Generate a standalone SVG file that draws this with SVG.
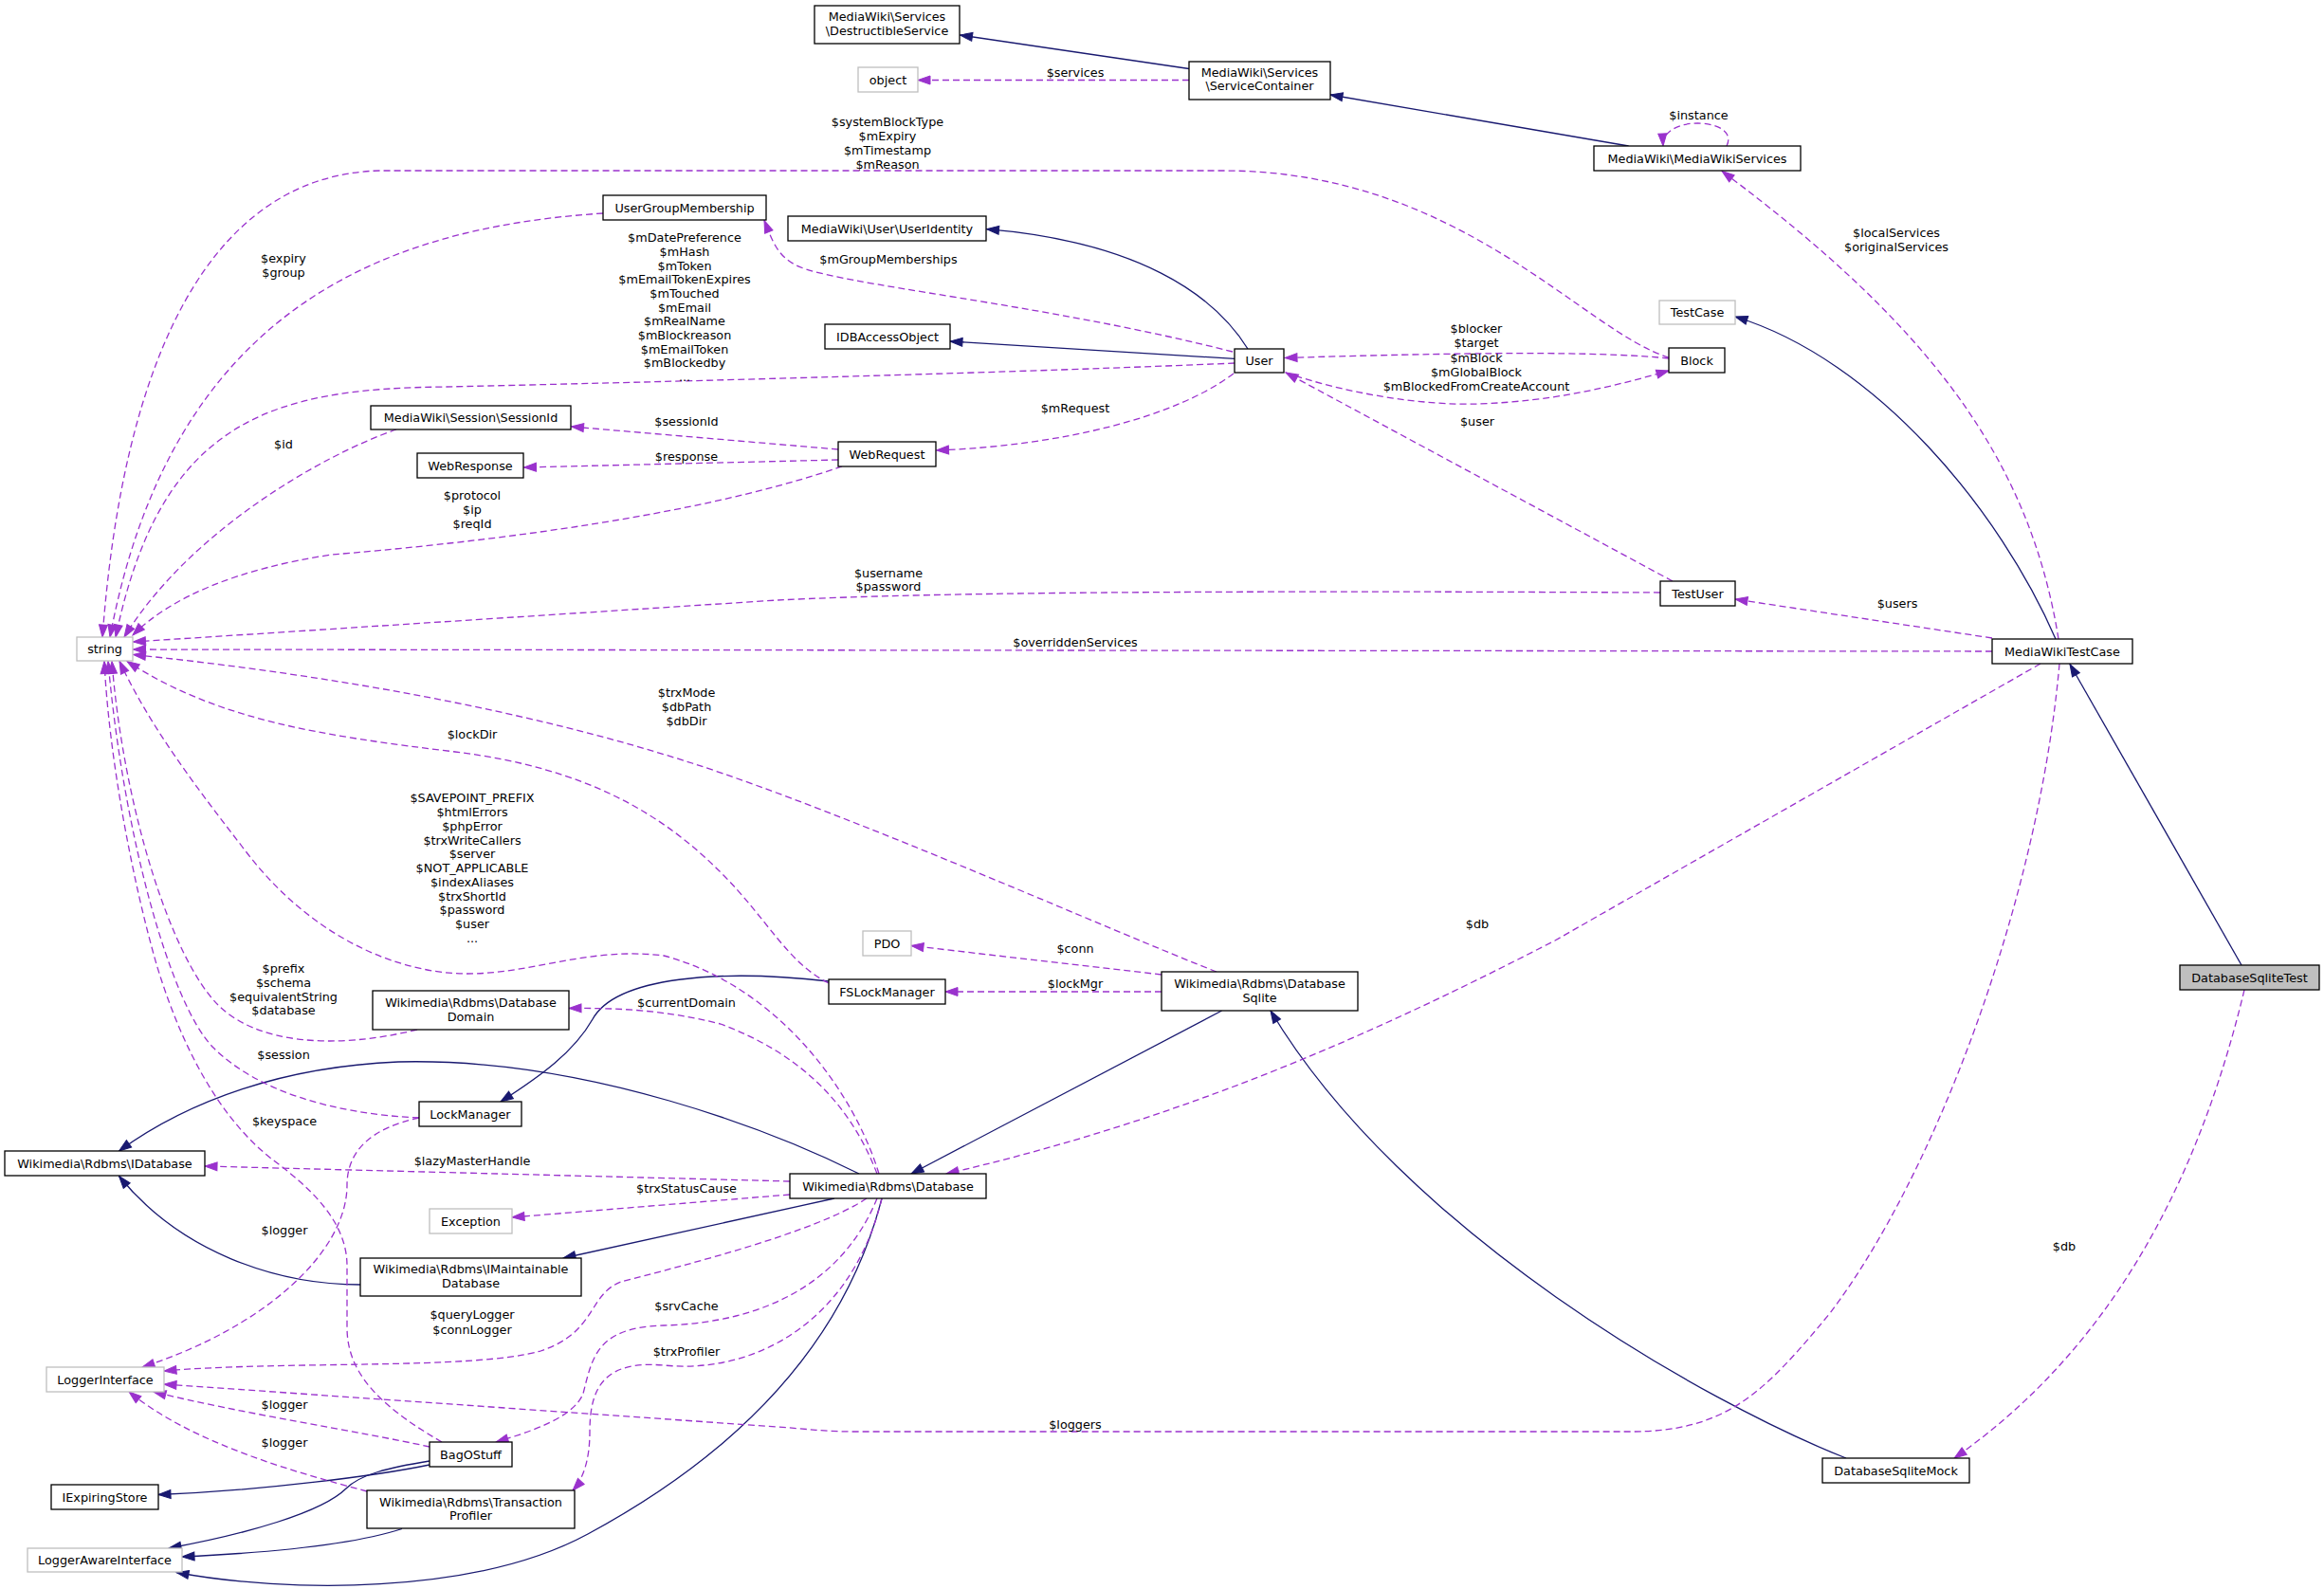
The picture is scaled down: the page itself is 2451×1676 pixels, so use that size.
<svg xmlns="http://www.w3.org/2000/svg" width="2451" height="1676" viewBox="0 0 2451 1676">
<style>
.node rect{fill:#fff;stroke:#000;stroke-width:1.3}
.node.ext rect{stroke:#bfbfbf}
.node.cur rect{fill:#bfbfbf}
text{font-family:"DejaVu Sans","Liberation Sans",sans-serif;font-size:12.8px;text-anchor:middle;fill:#000}
.inh{fill:none;stroke:#191970;stroke-width:1.3;marker-end:url(#an)}
.use{fill:none;stroke:#9a32cd;stroke-width:1.3;stroke-dasharray:7,4;marker-end:url(#ap)}
</style>
<defs>
<marker id="an" markerUnits="userSpaceOnUse" markerWidth="14" markerHeight="10" refX="13" refY="5" orient="auto" overflow="visible"><path d="M0,0.5 L13,5 L0,9.5 z" fill="#191970" stroke="#191970" stroke-width="1" stroke-dasharray="none"/></marker>
<marker id="ap" markerUnits="userSpaceOnUse" markerWidth="14" markerHeight="10" refX="13" refY="5" orient="auto" overflow="visible"><path d="M0,0.5 L13,5 L0,9.5 z" fill="#9a32cd" stroke="#9a32cd" stroke-width="1" stroke-dasharray="none"/></marker>
</defs>
<rect width="2451" height="1676" fill="#fff"/>
<g id="edges">
<path class="inh" d="M1254,72.5 L1012.5,37"/>
<path class="inh" d="M1717.6,154 L1403,100"/>
<path class="inh" d="M1316,368 C1280,310 1200,255 1040.5,241.7"/>
<path class="inh" d="M1302,378.4 L1002,360"/>
<path class="inh" d="M2168,674 C2110,540 1980,380 1830,334"/>
<path class="inh" d="M2364,1018 L2183,700.5"/>
<path class="inh" d="M1288.6,1066 L961,1238"/>
<path class="inh" d="M1947,1538 C1800,1480 1480,1300 1340,1066"/>
<path class="inh" d="M906,1238 C820,1195 620,1115 420,1120 C300,1125 200,1160 125.5,1214"/>
<path class="inh" d="M380,1355 C290,1355 190,1320 125.5,1240.5"/>
<path class="inh" d="M880,1264 L594,1327"/>
<path class="inh" d="M874,1035 C760,1022 650,1030 625,1075 C605,1110 570,1135 528,1162"/>
<path class="inh" d="M453,1545 C400,1556 280,1572 167,1576.5"/>
<path class="inh" d="M453,1541 C410,1548 380,1555 365,1570 C340,1595 260,1618 178,1633"/>
<path class="inh" d="M424,1612.5 C370,1630 280,1638 192,1642"/>
<path class="inh" d="M930,1264 C900,1380 820,1510 620,1618 C500,1683 300,1680 186,1658.5"/>

<path class="use" d="M1254,84.5 L968,84.5"/>
<path class="use" d="M1821,154 C1836,124 1752,120 1754,154"/>
<path class="use" d="M2171,674 C2140,480 2030,340 1816,180.5"/>
<path class="use" d="M1760,377 C1670,350 1540,180 1290,180 L400,180 C220,185 130,380 108,672"/>
<path class="use" d="M636,225 C400,240 180,330 116,672"/>
<path class="use" d="M1302,383 C1100,392 700,403 470,408 C290,410 170,440 122,672"/>
<path class="use" d="M418,453 C340,480 200,560 131,672"/>
<path class="use" d="M888,492 C720,550 470,575 350,585 C250,600 180,630 140,670"/>
<path class="use" d="M1751,625 C1300,623 1000,624 820,633 L140.5,677"/>
<path class="use" d="M2101,687 L140.5,685"/>
<path class="use" d="M1283,1025 C1180,985 900,860 730,805 C560,750 350,712 140.5,690.5"/>
<path class="use" d="M874,1037 C830,1015 810,970 760,920 C700,860 620,810 480,793 C340,776 230,760 134,697.5"/>
<path class="use" d="M927,1238 C900,1150 820,1040 700,1008 C620,998 560,1028 490,1027 C420,1026 330,990 260,899 C210,834 160,770 126,697.5"/>
<path class="use" d="M440,1086 C350,1108 270,1100 230,1060 C180,1010 130,850 118,697.5"/>
<path class="use" d="M442,1179 C350,1175 270,1150 225,1105 C180,1060 130,880 114,697.5"/>
<path class="use" d="M466,1521 C395,1480 366,1445 366,1400 L366,1335 C366,1290 330,1255 290,1225 C230,1180 190,1100 165,1017 C140,930 115,800 110,697.5"/>
<path class="use" d="M442,1179 C390,1190 366,1215 366,1250 C366,1320 280,1400 150,1442"/>
<path class="use" d="M914,1264 C860,1300 720,1335 655,1352 C620,1365 630,1405 570,1425 C500,1445 300,1435 173,1446"/>
<path class="use" d="M925,1264 C890,1350 810,1395 700,1398 C630,1400 625,1430 615,1470 C605,1495 560,1510 523,1521"/>
<path class="use" d="M930,1264 C900,1390 800,1450 700,1440 C640,1435 622,1460 622,1510 C622,1540 615,1560 604,1572"/>
<path class="use" d="M833,1260 L540,1284"/>
<path class="use" d="M833,1246 L216,1230"/>
<path class="use" d="M925,1238 C895,1160 840,1110 760,1080 C700,1065 650,1063 600,1063.5"/>
<path class="use" d="M1225,1028 L961,997.5"/>
<path class="use" d="M1225,1046 L997,1046"/>
<path class="use" d="M2152,700 L1640,992 C1450,1090 1250,1180 998,1238"/>
<path class="use" d="M2172,700 C2150,950 2040,1240 1930,1385 C1860,1470 1820,1510 1720,1510 L900,1510 C870,1510 850,1507 820,1505 L173,1460"/>
<path class="use" d="M453,1526 C380,1510 250,1490 162,1468"/>
<path class="use" d="M387,1573 C300,1550 200,1520 136,1468"/>
<path class="use" d="M2367,1044 C2320,1240 2230,1420 2061,1538"/>
<path class="use" d="M1764,613 L1356,393"/>
<path class="use" d="M1760,378 C1700,372 1600,370 1355,377.5"/>
<path class="use" d="M1356,393 C1420,415 1500,428 1560,426 C1640,423 1700,408 1760,391"/>
<path class="use" d="M1300,371 C1100,320 880,300 840,280 C820,270 815,255 806,232.5"/>
<path class="use" d="M1301,394 C1240,440 1120,470 987.5,475"/>
<path class="use" d="M884,474 L602.5,450"/>
<path class="use" d="M884,485 L552.5,493"/>
<path class="use" d="M2101,673 L1830,632"/>
</g>
<g id="labels">
<text x="1134" y="81">$services</text>
<text x="936"><tspan x="936" y="133">$systemBlockType</tspan><tspan x="936" y="147.5">$mExpiry</tspan><tspan x="936" y="162.5">$mTimestamp</tspan><tspan x="936" y="177.5">$mReason</tspan></text>
<text x="1791.5" y="126.3">$instance</text>
<text><tspan x="2000" y="250">$localServices</tspan><tspan x="2000" y="265">$originalServices</tspan></text>
<text><tspan x="299" y="277">$expiry</tspan><tspan x="299" y="292">$group</tspan></text>
<text><tspan x="722" y="255.2">$mDatePreference</tspan><tspan x="722" y="269.9">$mHash</tspan><tspan x="722" y="284.5">$mToken</tspan><tspan x="722" y="299.2">$mEmailTokenExpires</tspan><tspan x="722" y="313.9">$mTouched</tspan><tspan x="722" y="328.6">$mEmail</tspan><tspan x="722" y="343.2">$mRealName</tspan><tspan x="722" y="357.9">$mBlockreason</tspan><tspan x="722" y="372.6">$mEmailToken</tspan><tspan x="722" y="387.2">$mBlockedby</tspan><tspan x="722" y="401.9">...</tspan></text>
<text x="937" y="278">$mGroupMemberships</text>
<text><tspan x="1557" y="351">$blocker</tspan><tspan x="1557" y="366">$target</tspan></text>
<text><tspan x="1557" y="381.5">$mBlock</tspan><tspan x="1557" y="396.5">$mGlobalBlock</tspan><tspan x="1557" y="411.5">$mBlockedFromCreateAccount</tspan></text>
<text x="1134" y="435">$mRequest</text>
<text x="1558" y="449">$user</text>
<text x="724" y="449">$sessionId</text>
<text x="724" y="486">$response</text>
<text x="299" y="472.6">$id</text>
<text><tspan x="498" y="527">$protocol</tspan><tspan x="498" y="542">$ip</tspan><tspan x="498" y="557">$reqId</tspan></text>
<text><tspan x="937" y="609">$username</tspan><tspan x="937" y="623">$password</tspan></text>
<text x="2001" y="641.4">$users</text>
<text x="1134" y="682">$overriddenServices</text>
<text><tspan x="724" y="735">$trxMode</tspan><tspan x="724" y="750">$dbPath</tspan><tspan x="724" y="765">$dbDir</tspan></text>
<text x="498" y="778.8">$lockDir</text>
<text><tspan x="498" y="846.3">$SAVEPOINT_PREFIX</tspan><tspan x="498" y="861">$htmlErrors</tspan><tspan x="498" y="875.8">$phpError</tspan><tspan x="498" y="890.5">$trxWriteCallers</tspan><tspan x="498" y="905.3">$server</tspan><tspan x="498" y="920">$NOT_APPLICABLE</tspan><tspan x="498" y="934.7">$indexAliases</tspan><tspan x="498" y="949.5">$trxShortId</tspan><tspan x="498" y="964.2">$password</tspan><tspan x="498" y="979">$user</tspan><tspan x="498" y="993.7">...</tspan></text>
<text x="1558" y="978.7">$db</text>
<text x="1134" y="1005">$conn</text>
<text><tspan x="299" y="1026">$prefix</tspan><tspan x="299" y="1041">$schema</tspan><tspan x="299" y="1055.5">$equivalentString</tspan><tspan x="299" y="1070">$database</tspan></text>
<text x="1134" y="1042">$lockMgr</text>
<text x="724" y="1062">$currentDomain</text>
<text x="299" y="1117.2">$session</text>
<text x="300" y="1187.2">$keyspace</text>
<text x="498" y="1229">$lazyMasterHandle</text>
<text x="724" y="1258.3">$trxStatusCause</text>
<text x="300" y="1302">$logger</text>
<text x="2177" y="1319">$db</text>
<text x="724" y="1382">$srvCache</text>
<text><tspan x="498" y="1391.3">$queryLogger</tspan><tspan x="498" y="1406.5">$connLogger</tspan></text>
<text x="724" y="1430">$trxProfiler</text>
<text x="300" y="1485.6">$logger</text>
<text x="1134" y="1506.5">$loggers</text>
<text x="300" y="1526.4">$logger</text>
</g>
<g id="n_destructible" class="node"><rect x="859" y="6" width="153" height="40"/><text x="935.5" y="22">MediaWiki\Services</text><text x="935.5" y="37">\DestructibleService</text></g>
<g id="n_object" class="node ext"><rect x="905" y="71" width="63" height="26"/><text x="936.5" y="88.6">object</text></g>
<g id="n_servicecontainer" class="node"><rect x="1254" y="65" width="149" height="40"/><text x="1328.5" y="81">MediaWiki\Services</text><text x="1328.5" y="95">\ServiceContainer</text></g>
<g id="n_mwservices" class="node"><rect x="1681" y="154" width="218" height="26"/><text x="1790" y="171.6">MediaWiki\MediaWikiServices</text></g>
<g id="n_ugm" class="node"><rect x="636" y="206" width="172" height="26"/><text x="722" y="223.6">UserGroupMembership</text></g>
<g id="n_useridentity" class="node"><rect x="831" y="228" width="209" height="26"/><text x="935.5" y="245.6">MediaWiki\User\UserIdentity</text></g>
<g id="n_idbaccess" class="node"><rect x="870" y="342" width="132" height="26"/><text x="936" y="359.6">IDBAccessObject</text></g>
<g id="n_user" class="node"><rect x="1302" y="368" width="52" height="25"/><text x="1328" y="385.1">User</text></g>
<g id="n_block" class="node"><rect x="1760" y="367" width="59" height="26"/><text x="1789.5" y="384.6">Block</text></g>
<g id="n_testcase" class="node ext"><rect x="1750" y="317" width="80" height="25"/><text x="1790" y="334.1">TestCase</text></g>
<g id="n_sessionid" class="node"><rect x="391" y="428" width="211" height="25"/><text x="496.5" y="445.1">MediaWiki\Session\SessionId</text></g>
<g id="n_webrequest" class="node"><rect x="884" y="466" width="103" height="26"/><text x="935.5" y="483.6">WebRequest</text></g>
<g id="n_webresponse" class="node"><rect x="440" y="478" width="112" height="26"/><text x="496" y="495.6">WebResponse</text></g>
<g id="n_string" class="node ext"><rect x="81" y="672" width="59" height="25"/><text x="110.5" y="689.1">string</text></g>
<g id="n_testuser" class="node"><rect x="1751" y="613" width="79" height="26"/><text x="1790.5" y="630.6">TestUser</text></g>
<g id="n_mwtc" class="node"><rect x="2101" y="674" width="148" height="26"/><text x="2175" y="691.6">MediaWikiTestCase</text></g>
<g id="n_pdo" class="node ext"><rect x="910" y="982" width="51" height="26"/><text x="935.5" y="999.6">PDO</text></g>
<g id="n_fslock" class="node"><rect x="874" y="1033" width="123" height="26"/><text x="935.5" y="1050.6">FSLockManager</text></g>
<g id="n_dbsqlite" class="node"><rect x="1225" y="1025" width="207" height="41"/><text x="1328.5" y="1042">Wikimedia\Rdbms\Database</text><text x="1328.5" y="1057">Sqlite</text></g>
<g id="n_dbdomain" class="node"><rect x="393" y="1045" width="207" height="41"/><text x="496.5" y="1062">Wikimedia\Rdbms\Database</text><text x="496.5" y="1077">Domain</text></g>
<g id="n_dst" class="node cur"><rect x="2299" y="1018" width="147" height="26"/><text x="2372.5" y="1035.6">DatabaseSqliteTest</text></g>
<g id="n_lockmanager" class="node"><rect x="442" y="1162" width="108" height="26"/><text x="496" y="1179.6">LockManager</text></g>
<g id="n_idatabase" class="node"><rect x="5" y="1214" width="211" height="26"/><text x="110.5" y="1231.6">Wikimedia\Rdbms\IDatabase</text></g>
<g id="n_database" class="node"><rect x="833" y="1238" width="207" height="26"/><text x="936.5" y="1255.6">Wikimedia\Rdbms\Database</text></g>
<g id="n_exception" class="node ext"><rect x="453" y="1275" width="87" height="26"/><text x="496.5" y="1292.6">Exception</text></g>
<g id="n_imaint" class="node"><rect x="380" y="1327" width="233" height="40"/><text x="496.5" y="1343">Wikimedia\Rdbms\IMaintainable</text><text x="496.5" y="1358">Database</text></g>
<g id="n_loggerinterface" class="node ext"><rect x="49" y="1442" width="124" height="26"/><text x="111" y="1459.6">LoggerInterface</text></g>
<g id="n_bagostuff" class="node"><rect x="453" y="1521" width="87" height="26"/><text x="496.5" y="1538.6">BagOStuff</text></g>
<g id="n_iexpiring" class="node"><rect x="54" y="1566" width="113" height="26"/><text x="110.5" y="1583.6">IExpiringStore</text></g>
<g id="n_txprofiler" class="node"><rect x="387" y="1572" width="219" height="40"/><text x="496.5" y="1589">Wikimedia\Rdbms\Transaction</text><text x="496.5" y="1603">Profiler</text></g>
<g id="n_loggeraware" class="node ext"><rect x="29" y="1633" width="163" height="25"/><text x="110.5" y="1650.1">LoggerAwareInterface</text></g>
<g id="n_dsmock" class="node"><rect x="1922" y="1538" width="155" height="26"/><text x="1999.5" y="1555.6">DatabaseSqliteMock</text></g>
</svg>
